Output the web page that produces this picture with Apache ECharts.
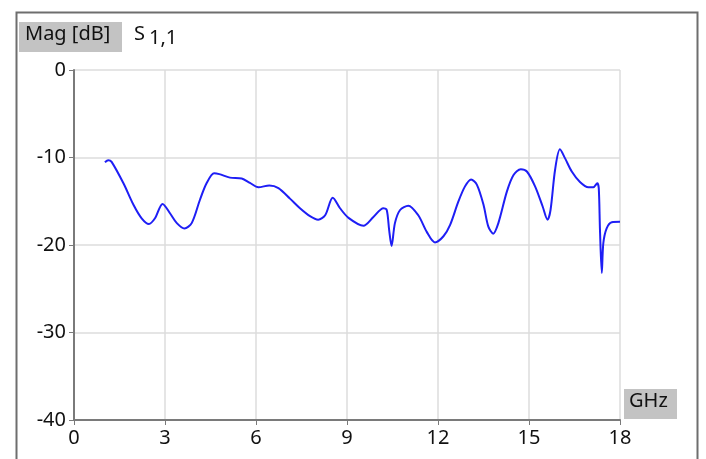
<!DOCTYPE html>
<html>
<head>
<meta charset="utf-8">
<script src="https://cdn.jsdelivr.net/npm/echarts@6/dist/echarts.min.js"></script>
<style>
  html, body { margin: 0; padding: 0; background: #fff; }
  #chart { width: 706px; height: 459px; }
</style>
</head>
<body>
<div id="chart"></div>
<script>
// frequency [GHz] and |S11| [dB]
const freq = [
  1.02, 1.13, 1.24, 1.63, 1.96, 2.23, 2.47, 2.67, 2.92, 3.17, 3.39, 3.64, 3.88,
  4.15, 4.37, 4.62, 4.79, 5.14, 5.53, 5.80, 6.08, 6.44, 6.74, 7.12, 7.45, 7.78,
  8.05, 8.28, 8.53, 8.77, 9.05, 9.54, 9.87, 10.20, 10.31, 10.39, 10.47, 10.58,
  10.75, 11.02, 11.35, 11.63, 11.90, 12.18, 12.40, 12.67, 12.89, 13.09, 13.28,
  13.50, 13.66, 13.82, 13.99, 14.27, 14.49, 14.73, 14.93, 15.20, 15.45, 15.61,
  15.71, 15.86, 16.02, 16.19, 16.41, 16.68, 16.96, 17.12, 17.25, 17.30, 17.34,
  17.40, 17.45, 17.56, 17.73, 18.0
]
const magDb = [
  -10.55, -10.3, -10.5, -12.95, -15.4, -16.95, -17.6, -16.95, -15.3, -16.4, -17.5, -18.1, -17.5,
  -14.86, -12.95, -11.8, -11.9, -12.3, -12.4, -12.9, -13.4, -13.2, -13.5, -14.7, -15.8, -16.7,
  -17.1, -16.6, -14.6, -15.8, -16.9, -17.8, -16.8, -15.8, -16.0, -18.3, -20.1, -17.5,
  -16.0, -15.5, -16.6, -18.5, -19.7, -19.0, -17.7, -15.05, -13.3, -12.5, -13.1,
  -15.4, -17.9, -18.7, -17.5, -13.9, -12.0, -11.35, -11.6, -13.3, -15.6, -17.1,
  -16.0, -11.4, -9.07, -10.1, -11.6, -12.8, -13.4, -13.4, -12.95, -13.5, -18.3,
  -23.2, -19.8, -18.1, -17.4, -17.35
]
const xTicks = [0, 3, 6, 9, 12, 15, 18]
const yTicks = [-40, -30, -20, -10, 0]

const font = '"Noto Sans", "DejaVu Sans", sans-serif'
const chart = echarts.init(document.getElementById('chart'))

chart.setOption({
  animation: false,
  grid: { left: 74, right: 86, top: 70, bottom: 39 },
  xAxis: {
    type: 'value',
    min: xTicks[0],
    max: xTicks[xTicks.length - 1],
    interval: 3,
    axisLine: { onZero: false, lineStyle: { color: '#7a7a7a', width: 2 } },
    axisTick: { show: true, length: 5, lineStyle: { color: '#7a7a7a', width: 1 } },
    axisLabel: { color: '#111', fontSize: 20, fontFamily: font, margin: 8 },
    splitLine: { show: true, lineStyle: { color: '#dcdcdc', width: 1.5 } }
  },
  yAxis: {
    type: 'value',
    min: yTicks[0],
    max: yTicks[yTicks.length - 1],
    interval: 10,
    axisLine: { show: true, onZero: false, lineStyle: { color: '#7a7a7a', width: 2 } },
    axisTick: { show: true, length: 5, lineStyle: { color: '#7a7a7a', width: 1 } },
    axisLabel: { color: '#111', fontSize: 20, fontFamily: font, margin: 8 },
    splitLine: { show: true, lineStyle: { color: '#dcdcdc', width: 1.5 } }
  },
  graphic: [
    {
      type: 'rect', left: 14, top: 10, z: -1,
      shape: { width: 681, height: 460 },
      style: { fill: 'none', stroke: '#6e6e6e', lineWidth: 2 }
    },
    {
      type: 'rect', left: 19, top: 22,
      shape: { width: 103, height: 30 },
      style: { fill: '#c3c3c3' }
    },
    {
      type: 'text', left: 25, top: 24,
      style: { text: 'Mag [dB]', font: '20px ' + font, fill: '#111' }
    },
    {
      type: 'text', left: 134, top: 24,
      style: { text: 'S', font: '20px ' + font, fill: '#111' }
    },
    {
      type: 'text', left: 149, top: 28,
      style: { text: '1,1', font: '20px ' + font, fill: '#111' }
    },
    {
      type: 'rect', left: 624, top: 389,
      shape: { width: 53, height: 30 },
      style: { fill: '#c3c3c3' }
    },
    {
      type: 'text', left: 629, top: 391,
      style: { text: 'GHz', font: '20px ' + font, fill: '#111' }
    }
  ],
  series: [{
    type: 'line',
    data: freq.map((f, i) => [f, magDb[i]]),
    smooth: 0.3,
    symbol: 'none',
    lineStyle: { color: '#1e1ef5', width: 2 }
  }]
})
</script>
</body>
</html>
